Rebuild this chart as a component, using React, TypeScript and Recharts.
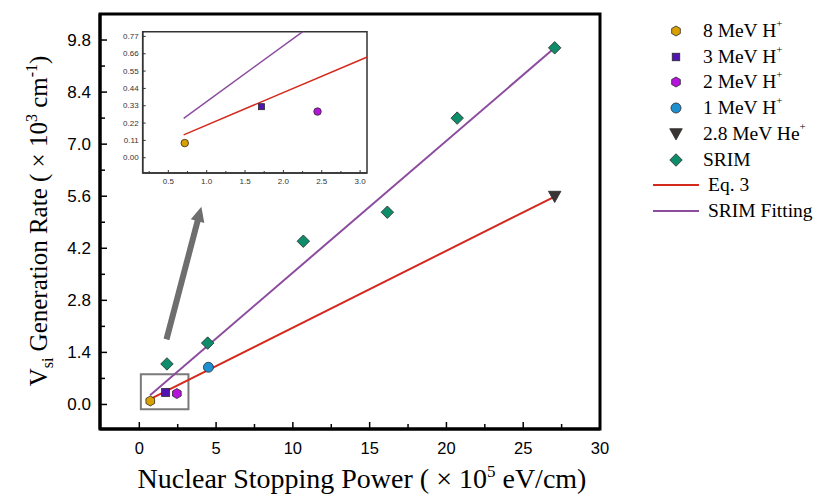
import React from 'react';
import { ComposedChart, Line, Scatter, XAxis, YAxis, ReferenceArea, ReferenceLine } from 'recharts';

// ---------------- data ----------------
const ionNames = ['8 MeV H', '3 MeV H', '2 MeV H', '1 MeV H', '2.8 MeV He'];
const ionStopping = [0.714, 1.714, 2.445, 4.5, 27.05];
const ionRate = [0.093, 0.324, 0.293, 1.0, 5.59];
const srimStopping = [1.8, 4.45, 10.68, 16.15, 20.7, 27.05];
const srimRate = [1.09, 1.65, 4.39, 5.17, 7.7, 9.59];
const eq3Stopping = [0.7, 27.05];
const eq3Rate = [0.145, 5.59];
const fitStopping = [0.7, 27.05];
const fitRate = [0.25, 9.59];

const xMajorTicks = [0, 5, 10, 15, 20, 25, 30];
const xMinorTicks = [2.5, 7.5, 12.5, 17.5, 22.5, 27.5];
const yMajorTicks = [0, 1.4, 2.8, 4.2, 5.6, 7.0, 8.4, 9.8];
const yMajorLabels = ['0.0', '1.4', '2.8', '4.2', '5.6', '7.0', '8.4', '9.8'];
const yMinorTicks = [0.7, 2.1, 3.5, 4.9, 6.3, 7.7, 9.1];
const insetXMajor = [0.5, 1.0, 1.5, 2.0, 2.5, 3.0];
const insetXLabels = ['0.5', '1.0', '1.5', '2.0', '2.5', '3.0'];
const insetXMinor = [0.25, 0.75, 1.25, 1.75, 2.25, 2.75];
const insetYTicks = [0, 0.11, 0.22, 0.33, 0.44, 0.55, 0.66, 0.77];
const insetYLabels = ['0.00', '0.11', '0.22', '0.33', '0.44', '0.55', '0.66', '0.77'];

// -------------- styling --------------
type Kind = 'hexagon' | 'square' | 'circle' | 'triangleDown' | 'diamond';
const ionKinds: Kind[] = ['hexagon', 'square', 'hexagon', 'circle', 'triangleDown'];
const ionColors = ['#D9A000', '#5214B0', '#B414DC', '#1E90CF', '#3A3434'];
const srimColor = '#0F8C6A';
const eq3Color = '#D42A1E';
const fitColor = '#8B4C9E';
const SANS = '"Liberation Sans", Arial, sans-serif';
const SERIF = '"Liberation Serif", "Times New Roman", serif';

const X_DOMAIN: [number, number] = [-2.56, 30];
const Y_DOMAIN: [number, number] = [-0.66, 10.5];
const IX_DOMAIN: [number, number] = [0.166, 3.09];
const IY_DOMAIN: [number, number] = [-0.097, 0.8];

const toPts = (xs: number[], ys: number[]) => xs.map((x, i) => ({ x, y: ys[i] }));

function Marker({ kind, cx, cy, size, fill }: { kind: Kind; cx: number; cy: number; size: number; fill: string }) {
  const r = size / 2;
  const stroke = '#2a2a2a';
  const sw = 0.8;
  if (kind === 'hexagon') {
    const pts = Array.from({ length: 6 }, (_, k) => {
      const a = (Math.PI / 180) * (-90 + 60 * k);
      return `${cx + r * Math.cos(a)},${cy + r * Math.sin(a)}`;
    }).join(' ');
    return <polygon points={pts} fill={fill} stroke={stroke} strokeWidth={sw} />;
  }
  if (kind === 'square') {
    return <rect x={cx - r} y={cy - r} width={size} height={size} fill={fill} stroke={stroke} strokeWidth={sw} />;
  }
  if (kind === 'circle') {
    return <circle cx={cx} cy={cy} r={r} fill={fill} stroke={stroke} strokeWidth={sw} />;
  }
  if (kind === 'triangleDown') {
    const pts = `${cx - r},${cy - r * 0.85} ${cx + r},${cy - r * 0.85} ${cx},${cy + r * 0.95}`;
    return <polygon points={pts} fill={fill} stroke={stroke} strokeWidth={sw} />;
  }
  const pts = `${cx},${cy - r} ${cx + r},${cy} ${cx},${cy + r} ${cx - r},${cy}`;
  return <polygon points={pts} fill={fill} stroke={stroke} strokeWidth={sw} />;
}

const near = (a: number, b: number) => Math.abs(a - b) < 1e-6;

const MainXTick = (props: any) => {
  const { x, y, payload } = props;
  const idx = xMajorTicks.findIndex((t) => near(t, payload.value));
  const major = idx >= 0;
  return (
    <g>
      <line x1={x} x2={x} y1={y} y2={y - (major ? 7 : 5)} stroke="#000" strokeWidth={1.5} />
      {major && (
        <text x={x} y={y + 19} textAnchor="middle" dominantBaseline="central" fontSize={16.5} fontFamily={SANS} fill="#000">
          {String(xMajorTicks[idx])}
        </text>
      )}
    </g>
  );
};

const MainYTick = (props: any) => {
  const { x, y, payload } = props;
  const idx = yMajorTicks.findIndex((t) => near(t, payload.value));
  const major = idx >= 0;
  return (
    <g>
      <line x1={x} x2={x + (major ? 7 : 5)} y1={y} y2={y} stroke="#000" strokeWidth={1.5} />
      {major && (
        <text x={x - 9} y={y} textAnchor="end" dominantBaseline="central" fontSize={17} fontFamily={SANS} fill="#000">
          {yMajorLabels[idx]}
        </text>
      )}
    </g>
  );
};

const InsetXTick = (props: any) => {
  const { x, y, payload } = props;
  const idx = insetXMajor.findIndex((t) => near(t, payload.value));
  const major = idx >= 0;
  return (
    <g>
      <line x1={x} x2={x} y1={y} y2={y - (major ? 3 : 2)} stroke="#333" strokeWidth={1} />
      {major && (
        <text x={x} y={y + 8} textAnchor="middle" dominantBaseline="central" fontSize={8} fontFamily={SANS} fill="#333">
          {insetXLabels[idx]}
        </text>
      )}
    </g>
  );
};

const InsetYTick = (props: any) => {
  const { x, y, payload } = props;
  const idx = insetYTicks.findIndex((t) => near(t, payload.value));
  return (
    <g>
      <line x1={x} x2={x + 3} y1={y} y2={y} stroke="#333" strokeWidth={1} />
      <text x={x - 4} y={y} textAnchor="end" dominantBaseline="central" fontSize={8} fontFamily={SANS} fill="#333">
        {insetYLabels[idx]}
      </text>
    </g>
  );
};

const ArrowShape = (props: any) => {
  const { x1, y1, x2, y2 } = props;
  if ([x1, y1, x2, y2].some((v) => typeof v !== 'number' || isNaN(v))) return <g />;
  const dx = x2 - x1;
  const dy = y2 - y1;
  const len = Math.sqrt(dx * dx + dy * dy);
  const ux = dx / len;
  const uy = dy / len;
  const head = 15;
  const half = 7;
  const bx = x2 - ux * head;
  const by = y2 - uy * head;
  const px = -uy;
  const py = ux;
  return (
    <g>
      <line x1={x1} y1={y1} x2={bx + ux * 1} y2={by + uy * 1} stroke="#6E6E6E" strokeWidth={6} />
      <polygon
        points={`${x2},${y2} ${bx + px * half},${by + py * half} ${bx - px * half},${by - py * half}`}
        fill="#6E6E6E"
      />
    </g>
  );
};

const XTitle = () => (
  <text x={362} y={488} textAnchor="middle" fontSize={28} fontFamily={SERIF} fill="#000">
    {'Nuclear Stopping Power ( × 10'}
    <tspan dy={-11} fontSize={17}>5</tspan>
    <tspan dy={11}>{' eV/cm)'}</tspan>
  </text>
);

const YTitle = () => (
  <text
    x={47}
    y={221}
    transform="rotate(-90, 47, 221)"
    textAnchor="middle"
    fontSize={25}
    fontFamily={SERIF}
    fill="#000"
  >
    {'V'}
    <tspan dy={6} fontSize={16}>si</tspan>
    <tspan dy={-6}>{' Generation Rate ( × 10'}</tspan>
    <tspan dy={-10} fontSize={16}>3</tspan>
    <tspan dy={10}>{' cm'}</tspan>
    <tspan dy={-10} fontSize={16}>-1</tspan>
    <tspan dy={10}>)</tspan>
  </text>
);

const legendRows: { label: string; sup?: string; kind?: Kind; color: string; line?: boolean }[] = [
  ...ionNames.map((n, i) => ({ label: n, sup: '+', kind: ionKinds[i], color: ionColors[i] })),
  { label: 'SRIM', kind: 'diamond' as Kind, color: srimColor },
  { label: 'Eq. 3', color: eq3Color, line: true },
  { label: 'SRIM Fitting', color: fitColor, line: true },
];
const legendSizes: Record<Kind, number> = { hexagon: 10, square: 7.5, circle: 10, triangleDown: 12.5, diamond: 12.5 };

function LegendBox() {
  return (
    <div style={{ position: 'absolute', left: 0, top: 0, width: 813, height: 499, pointerEvents: 'none' }}>
      {legendRows.map((row, i) => {
        const cy = 31 + 25.7 * i;
        return (
          <React.Fragment key={row.label}>
            <svg style={{ position: 'absolute', left: 650, top: cy - 13 }} width={52} height={26}>
              {row.line ? (
                <line x1={3} x2={49} y1={13} y2={13} stroke={row.color} strokeWidth={2} />
              ) : (
                <Marker kind={row.kind as Kind} cx={26} cy={13} size={legendSizes[row.kind as Kind]} fill={row.color} />
              )}
            </svg>
            <div
              style={{
                position: 'absolute',
                left: row.line ? 708 : 703,
                top: cy,
                transform: 'translateY(-50%)',
                fontFamily: SERIF,
                fontSize: 19.5,
                lineHeight: 1,
                whiteSpace: 'nowrap',
                color: '#000',
              }}
            >
              {row.label}
              {row.sup && <sup style={{ fontSize: 11, verticalAlign: 'top', lineHeight: 1, position: 'relative', top: -3 }}>{row.sup}</sup>}
            </div>
          </React.Fragment>
        );
      })}
    </div>
  );
}

const mainSizes: Record<Kind, number> = { hexagon: 10, square: 8, circle: 10, triangleDown: 12.5, diamond: 12.5 };
const insetSizes: Record<Kind, number> = { hexagon: 7.5, square: 6, circle: 7.5, triangleDown: 7, diamond: 7 };
const insetIonKinds: Kind[] = ['circle', 'square', 'circle', 'circle', 'triangleDown'];

export default function App() {
  const eq3Data = toPts(eq3Stopping, eq3Rate);
  const fitData = toPts(fitStopping, fitRate);
  const srimData = toPts(srimStopping, srimRate);

  return (
    <div style={{ position: 'absolute', left: 0, top: 0, width: 813, height: 499, background: '#fff' }}>
      <ComposedChart width={813} height={499} margin={{ top: 14, right: 213, bottom: 30, left: 40 }}>
        <XAxis
          type="number"
          dataKey="x"
          domain={X_DOMAIN}
          allowDataOverflow
          ticks={[...xMajorTicks, ...xMinorTicks].sort((a, b) => a - b)}
          interval={0}
          tickSize={0}
          tickMargin={0}
          tickLine={false}
          tick={<MainXTick />}
          axisLine={{ stroke: '#000', strokeWidth: 3 }}
          height={40}
          label={{ content: () => <XTitle /> }}
        />
        <YAxis
          type="number"
          dataKey="y"
          domain={Y_DOMAIN}
          allowDataOverflow
          ticks={[...yMajorTicks, ...yMinorTicks].sort((a, b) => a - b)}
          interval={0}
          tickSize={0}
          tickMargin={0}
          tickLine={false}
          tick={<MainYTick />}
          axisLine={{ stroke: '#000', strokeWidth: 3 }}
          width={60}
          label={{ content: () => <YTitle /> }}
        />
        <ReferenceArea
          x1={X_DOMAIN[0]}
          x2={X_DOMAIN[1]}
          y1={Y_DOMAIN[0]}
          y2={Y_DOMAIN[1]}
          fill="none"
          fillOpacity={0}
          stroke="#000"
          strokeWidth={3}
          ifOverflow="visible"
        />
        <ReferenceArea
          x1={0.1}
          x2={3.2}
          y1={-0.13}
          y2={0.81}
          fill="none"
          fillOpacity={0}
          stroke="#7A7A7A"
          strokeWidth={2}
          ifOverflow="visible"
        />
        <ReferenceLine
          segment={[
            { x: 1.77, y: 1.75 },
            { x: 4.04, y: 5.32 },
          ]}
          shape={ArrowShape}
          ifOverflow="visible"
        />
        <Line data={eq3Data} dataKey="y" type="linear" stroke={eq3Color} strokeWidth={2} dot={false} isAnimationActive={false} />
        <Line data={fitData} dataKey="y" type="linear" stroke={fitColor} strokeWidth={2} dot={false} isAnimationActive={false} />
        <Scatter
          data={srimData}
          dataKey="y"
          isAnimationActive={false}
          shape={(p: any) => <Marker kind="diamond" cx={p.cx} cy={p.cy} size={mainSizes.diamond} fill={srimColor} />}
        />
        {ionNames.map((n, i) => (
          <Scatter
            key={n}
            data={[{ x: ionStopping[i], y: ionRate[i] }]}
            dataKey="y"
            isAnimationActive={false}
            shape={(p: any) => <Marker kind={ionKinds[i]} cx={p.cx} cy={p.cy} size={mainSizes[ionKinds[i]]} fill={ionColors[i]} />}
          />
        ))}
      </ComposedChart>

      <div style={{ position: 'absolute', left: 103, top: 20 }}>
        <ComposedChart width={277} height={170} margin={{ top: 11.7, right: 13, bottom: 2, left: 9.7 }}>
          <XAxis
            type="number"
            dataKey="x"
            domain={IX_DOMAIN}
            allowDataOverflow
            ticks={[...insetXMajor, ...insetXMinor].sort((a, b) => a - b)}
            interval={0}
            tickSize={0}
            tickMargin={0}
            tickLine={false}
            tick={<InsetXTick />}
            axisLine={{ stroke: '#333', strokeWidth: 1.5 }}
            height={15}
          />
          <YAxis
            type="number"
            dataKey="y"
            domain={IY_DOMAIN}
            allowDataOverflow
            ticks={insetYTicks}
            interval={0}
            tickSize={0}
            tickMargin={0}
            tickLine={false}
            tick={<InsetYTick />}
            axisLine={{ stroke: '#333', strokeWidth: 1.5 }}
            width={30}
          />
          <ReferenceArea
            x1={IX_DOMAIN[0]}
            x2={IX_DOMAIN[1]}
            y1={IY_DOMAIN[0]}
            y2={IY_DOMAIN[1]}
            fill="none"
            fillOpacity={0}
            stroke="#333"
            strokeWidth={1.5}
            ifOverflow="visible"
          />
          <Line data={eq3Data} dataKey="y" type="linear" stroke={eq3Color} strokeWidth={1.5} dot={false} isAnimationActive={false} />
          <Line data={fitData} dataKey="y" type="linear" stroke={fitColor} strokeWidth={1.5} dot={false} isAnimationActive={false} />
          {ionNames.slice(0, 3).map((n, i) => (
            <Scatter
              key={n}
              data={[{ x: ionStopping[i], y: ionRate[i] }]}
              dataKey="y"
              isAnimationActive={false}
              shape={(p: any) => (
                <Marker kind={insetIonKinds[i]} cx={p.cx} cy={p.cy} size={insetSizes[insetIonKinds[i]]} fill={ionColors[i]} />
              )}
            />
          ))}
        </ComposedChart>
      </div>

      <LegendBox />
    </div>
  );
}
